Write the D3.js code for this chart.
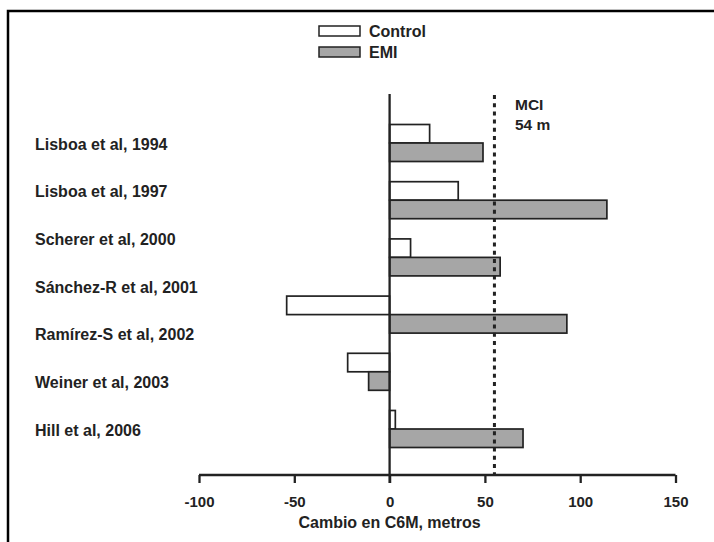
<!DOCTYPE html>
<html><head><meta charset="utf-8">
<script src="https://cdn.jsdelivr.net/npm/d3@7"></script>
<style>
html,body{margin:0;padding:0;background:#fff;}
svg text{font-family:"Liberation Sans",Arial,sans-serif;font-weight:bold;fill:#222;}
</style></head>
<body><div id="chart"></div>
<script>
// ---- data ----
const studyLabels = ["Lisboa et al, 1994","Lisboa et al, 1997","Scherer et al, 2000","Sánchez-R et al, 2001","Ramírez-S et al, 2002","Weiner et al, 2003","Hill et al, 2006"];
const barGroups = ["Lisboa 1994","Lisboa 1997","Scherer 2000","Sánchez-R 2001 / Ramírez-S 2002","Weiner 2003","Hill 2006"];
const controlValues = [21, 36, 11, -54, -22, 3];
const emiValues = [49, 114, 58, 93, -11, 70];
const seriesNames = ["Control","EMI"];
const xTicks = [-100,-50,0,50,100,150];
const mciValue = 55;
const mciLabel = ["MCI","54 m"];
const xTitle = "Cambio en C6M, metros";

const W = 714, H = 542;
const svg = d3.select("#chart").append("svg").attr("width",W).attr("height",H);

// frame
svg.append("rect").attr("x",8).attr("y",11).attr("width",740).attr("height",560)
  .attr("fill","none").attr("stroke","#000").attr("stroke-width",2.5);

const x = d3.scaleLinear().domain([-100,150]).range([199,675.5]);
const yG = d3.scaleBand().domain(barGroups).range([124.5,447.5]).paddingInner(0.353).paddingOuter(0);
const ySub = d3.scaleBand().domain(seriesNames).range([0,yG.bandwidth()]);
const yL = d3.scalePoint().domain(studyLabels).range([144,430]);
const axisY = 475;
const fills = {Control:"#ffffff", EMI:"#a6a6a6"};

const data = [];
barGroups.forEach((g,i)=>{
  data.push({g, s:"Control", v:controlValues[i]});
  data.push({g, s:"EMI", v:emiValues[i]});
});

// bars
svg.append("g").selectAll("rect").data(data).join("rect")
  .attr("x", d=>Math.min(x(0),x(d.v)))
  .attr("width", d=>Math.abs(x(d.v)-x(0)))
  .attr("y", d=>yG(d.g)+ySub(d.s))
  .attr("height", ySub.bandwidth())
  .attr("fill", d=>fills[d.s]).attr("stroke","#222").attr("stroke-width",1.7);

// MCI dotted line
svg.append("line").attr("x1",x(mciValue)).attr("x2",x(mciValue)).attr("y1",95).attr("y2",axisY)
  .attr("stroke","#222").attr("stroke-width",3).attr("stroke-dasharray","4,4.2");

// zero line
svg.append("line").attr("x1",x(0)).attr("x2",x(0)).attr("y1",94).attr("y2",483)
  .attr("stroke","#222").attr("stroke-width",2.3);

// x axis
const ax = svg.append("g").attr("transform",`translate(0,${axisY})`)
  .call(d3.axisBottom(x).tickValues(xTicks).tickSize(8).tickPadding(13).tickFormat(d=>String(d)));
ax.select(".domain").attr("stroke","#222").attr("stroke-width",2.3).attr("d",`M${x(-100)},0H${x(150)}`);
ax.selectAll(".tick line").attr("stroke","#222").attr("stroke-width",2.3);
ax.selectAll(".tick text").attr("font-size",15).attr("fill","#222")
  .attr("font-family","Liberation Sans, Arial, sans-serif").attr("font-weight","bold");

svg.append("text").attr("x",x(0)).attr("y",522).attr("dy","0.36em").attr("text-anchor","middle")
  .attr("font-size",16).text(xTitle);

// category labels
svg.append("g").selectAll("text").data(studyLabels).join("text")
  .attr("x",35).attr("y",d=>yL(d)).attr("dy","0.36em").attr("font-size",16).text(d=>d);

// MCI label
svg.append("text").attr("x",515).attr("y",104).attr("dy","0.36em").attr("font-size",15.5).text(mciLabel[0]);
svg.append("text").attr("x",515).attr("y",124).attr("dy","0.36em").attr("font-size",15.5).text(mciLabel[1]);

// legend
const lg = svg.append("g");
const legY = d3.scalePoint().domain(seriesNames).range([31,52]);
lg.selectAll("rect").data(seriesNames).join("rect")
  .attr("x",319).attr("y",d=>legY(d)-5).attr("width",41).attr("height",10)
  .attr("fill",d=>fills[d]).attr("stroke","#222").attr("stroke-width",1.5);
lg.selectAll("text").data(seriesNames).join("text")
  .attr("x",369).attr("y",d=>legY(d)).attr("dy","0.36em").attr("font-size",16).text(d=>d);
</script></body></html>
